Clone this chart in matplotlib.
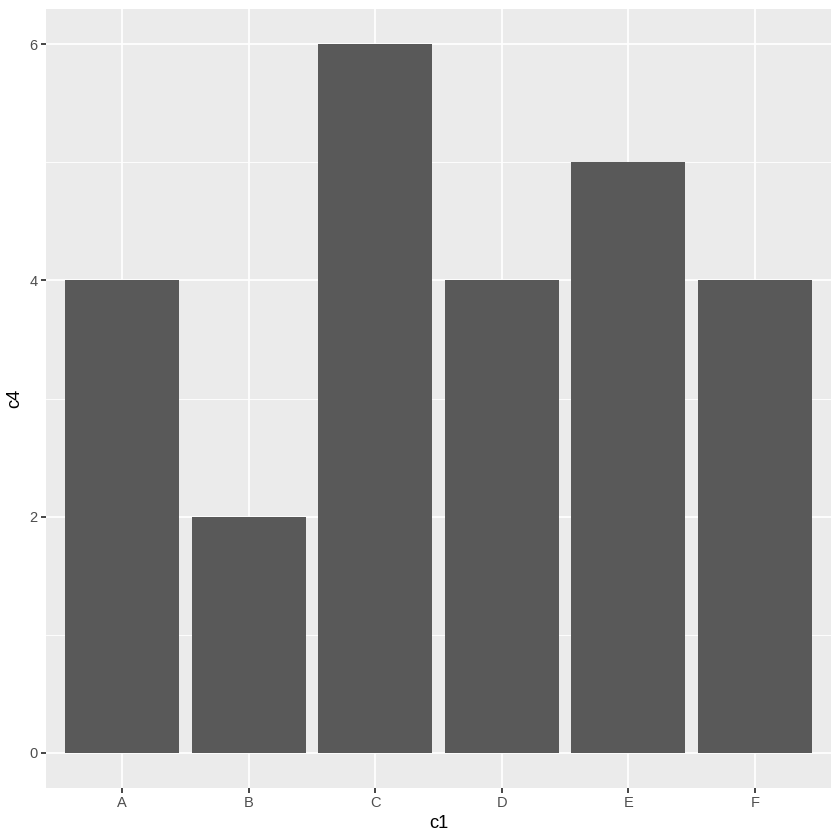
import matplotlib
matplotlib.use("Agg")
import matplotlib.pyplot as plt

categories = ["A", "B", "C", "D", "E", "F"]
values = [4, 2, 6, 4, 5, 4]

plt.rcParams['font.family'] = ['Liberation Sans', 'DejaVu Sans']

fig = plt.figure(figsize=(7, 7), dpi=120)
ax = fig.add_axes([46 / 840, 52 / 840, 785 / 840, 779 / 840])
ax.set_facecolor('#EBEBEB')

x = list(range(1, len(categories) + 1))
ax.bar(x, values, width=0.9, color='#595959', zorder=3)

ax.set_xlim(0.4, 6.6)
ax.set_ylim(-0.3, 6.3)
ax.set_xticks(x)
ax.set_xticklabels(categories)
ax.set_yticks([0, 2, 4, 6])
ax.set_yticks([1, 3, 5], minor=True)

ax.grid(True, which='major', color='white', linewidth=1.07, zorder=1)
ax.grid(True, which='minor', axis='y', color='white', linewidth=0.53, zorder=1)
ax.set_axisbelow(True)

for s in ax.spines.values():
    s.set_visible(False)

ax.tick_params(axis='both', which='major', length=2.75, width=1.07, color='#333333',
               labelcolor='#4D4D4D', labelsize=8.8, pad=2.2)
ax.tick_params(axis='y', which='minor', length=0)

ax.set_xlabel('c1', fontsize=11, color='black', labelpad=3)
ax.set_ylabel('c4', fontsize=11, color='black', labelpad=4)

fig.savefig('out.png', dpi=120, facecolor='white')
